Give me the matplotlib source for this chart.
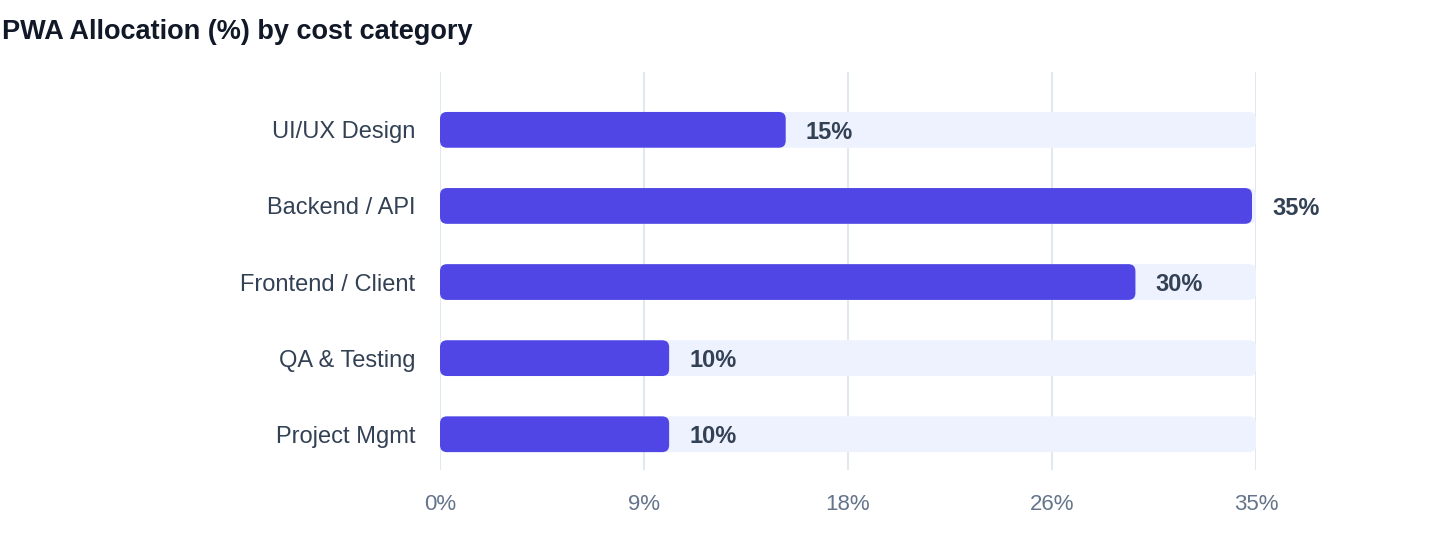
import numpy as np
import matplotlib
matplotlib.use('Agg')
import matplotlib.pyplot as plt
from matplotlib.patches import FancyBboxPatch

# data
categories = ['UI/UX Design', 'Backend / API', 'Frontend / Client', 'QA & Testing', 'Project Mgmt']
values     = [15, 35, 30, 10, 10]
xmax       = 35
xticks     = [0, 8.75, 17.5, 26.25, 35]
xticklabs  = ['0%', '9%', '18%', '26%', '35%']

plt.rcParams['font.family'] = ['Liberation Sans', 'DejaVu Sans']

bar_col   = '#4F46E5'
track_col = '#EEF2FF'
grid_col  = '#E2E8F0'
lab_col   = '#334155'
tick_col  = '#64748B'

fig = plt.figure(figsize=(14.4, 5.6), dpi=100)
ax  = fig.add_axes([440/1440, 90/560, 816/1440, 398/560])
ax.set_xlim(0, xmax)
ax.set_ylim(len(categories) - 1 + 0.47, -0.76)

# rounding in data units (x) plus aspect correction for y
xpp = xmax / 816.0
ypp = (len(categories) - 1 + 0.47 + 0.76) / 398.0
rad = 7 * xpp
asp = ypp / xpp
h   = 0.47
inset = 4 * xpp

for i, v in enumerate(values):
  trk = FancyBboxPatch((0, i - h/2), xmax, h,
                       boxstyle='round,pad=0,rounding_size=%f' % rad,
                       mutation_aspect=asp, fc=track_col, ec='none', zorder=1)
  ax.add_patch(trk)
  bar = FancyBboxPatch((0, i - h/2), v - inset, h,
                       boxstyle='round,pad=0,rounding_size=%f' % rad,
                       mutation_aspect=asp, fc=bar_col, ec='none', zorder=2)
  ax.add_patch(bar)
  ax.annotate('%d%%' % v, (v, i), xytext=(16, 0), textcoords='offset pixels',
              ha='left', va='center_baseline', fontsize=17, fontweight='bold',
              color=lab_col, zorder=3)

for t in xticks:
  ax.axvline(t, color=grid_col, lw=1.5, zorder=0)

ax.set_yticks(range(len(categories)))
ax.set_yticklabels(categories, fontsize=17, color=lab_col)
ax.set_xticks(xticks)
ax.set_xticklabels(xticklabs, fontsize=16, color=tick_col)
ax.tick_params(axis='both', length=0)
ax.tick_params(axis='y', pad=18)
ax.tick_params(axis='x', pad=17)
for s in ax.spines.values():
  s.set_visible(False)

fig.text(2/1440, 1 - 32/560, 'PWA Allocation (%) by cost category', fontsize=19.5,
         fontweight='bold', color='#111827', ha='left', va='center')

fig.savefig('out.png', dpi=100)
